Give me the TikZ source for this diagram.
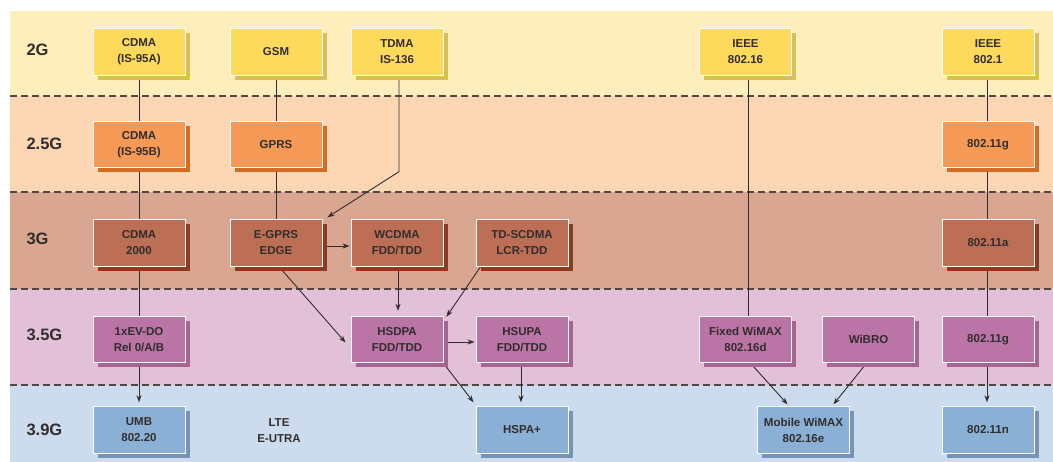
\documentclass[tikz,border=0pt]{standalone}
\usepackage{fontspec}
\setmainfont{Liberation Sans}
\usetikzlibrary{arrows.meta,shadows,calc}
\pgfdeclarelayer{bands}
\pgfdeclarelayer{conn}
\pgfsetlayers{bands,conn,main}
\definecolor{bandA}{RGB}{254,238,188}
\definecolor{bandB}{RGB}{253,214,180}
\definecolor{bandC}{RGB}{217,166,145}
\definecolor{bandD}{RGB}{225,192,216}
\definecolor{bandE}{RGB}{204,220,238}
\definecolor{boxA}{RGB}{254,218,92}
\definecolor{shA}{RGB}{218,190,90}
\definecolor{boxB}{RGB}{245,154,86}
\definecolor{shB}{RGB}{214,108,34}
\definecolor{boxC}{RGB}{189,111,85}
\definecolor{shC}{RGB}{140,58,34}
\definecolor{boxD}{RGB}{187,116,166}
\definecolor{shD}{RGB}{166,100,148}
\definecolor{boxE}{RGB}{139,176,214}
\definecolor{shE}{RGB}{118,148,184}
\definecolor{txt}{RGB}{50,45,45}
\definecolor{lnc}{RGB}{50,44,44}
\definecolor{dashc}{RGB}{80,70,68}
\tikzset{
  box/.style={draw=white, line width=0.9pt, minimum width=92pt, minimum height=46.5pt,
    inner sep=0pt, align=center, text=txt,
    font=\fontsize{11.5}{16}\selectfont\bfseries},
  gA/.style={box, fill=boxA, drop shadow={shadow xshift=4.5pt,shadow yshift=-4.5pt,fill=shA,opacity=1}},
  gB/.style={box, fill=boxB, drop shadow={shadow xshift=4.5pt,shadow yshift=-4.5pt,fill=shB,opacity=1}},
  gC/.style={box, fill=boxC, drop shadow={shadow xshift=4.5pt,shadow yshift=-4.5pt,fill=shC,opacity=1}},
  gD/.style={box, fill=boxD, drop shadow={shadow xshift=4.5pt,shadow yshift=-4.5pt,fill=shD,opacity=1}},
  gE/.style={box, fill=boxE, drop shadow={shadow xshift=4.5pt,shadow yshift=-4.5pt,fill=shE,opacity=1}},
  rowlab/.style={anchor=west, text=txt, font=\fontsize{16.5}{18}\selectfont\bfseries},
  plaintext/.style={align=center, text=txt, font=\fontsize{11.5}{16}\selectfont\bfseries},
  ln/.style={draw=lnc, line width=0.9pt},
  arr/.style={ln, -{Stealth[length=7pt,width=5pt]}},
  sep/.style={draw=dashc, line width=1.2pt, dash pattern=on 7pt off 4pt}
}
\begin{document}
\begin{tikzpicture}[x=1pt,y=-1pt]
\useasboundingbox (0,0) rectangle (1053,462);
\begin{pgfonlayer}{bands}
  \fill[bandA] (10,11) rectangle (1053,96);
  \fill[bandB] (10,96) rectangle (1053,192);
  \fill[bandC] (10,192) rectangle (1053,289);
  \fill[bandD] (10,289) rectangle (1053,385);
  \fill[bandE] (10,385) rectangle (1053,462);
  \draw[sep] (10,96) -- (1053,96);
  \draw[sep] (10,192) -- (1053,192);
  \draw[sep] (10,289) -- (1053,289);
  \draw[sep] (10,385) -- (1053,385);
\end{pgfonlayer}

% row labels
\node[rowlab] (l2) at (23,50) {2G};
\node[rowlab] (l25) at (23,144) {2.5G};
\node[rowlab] (l3) at (23,239) {3G};
\node[rowlab] (l35) at (23,335) {3.5G};
\node[rowlab] (l39) at (23,430) {3.9G};

% 2G
\node[gA] (cdmaA) at (139,52) {CDMA\\(IS-95A)};
\node[gA] (gsm) at (276,52) {GSM};
\node[gA] (tdma) at (397,52) {TDMA\\IS-136};
\node[gA] (ieee16) at (745.5,52) {IEEE\\802.16};
\node[gA] (ieee1) at (988,52) {IEEE\\802.1};
% 2.5G
\node[gB] (cdmaB) at (139,144.5) {CDMA\\(IS-95B)};
\node[gB] (gprs) at (276,144.5) {GPRS};
\node[gB] (wlg) at (988,144.5) {802.11g};
% 3G
\node[gC] (cdma2k) at (139,243) {CDMA\\2000};
\node[gC] (egprs) at (276,243) {E-GPRS\\EDGE};
\node[gC] (wcdma) at (397,243) {WCDMA\\FDD/TDD};
\node[gC] (tdscdma) at (522,243) {TD-SCDMA\\LCR-TDD};
\node[gC] (wla) at (988,243) {802.11a};
% 3.5G
\node[gD] (evdo) at (139,339.5) {1xEV-DO\\Rel 0/A/B};
\node[gD] (hsdpa) at (397,339.5) {HSDPA\\FDD/TDD};
\node[gD] (hsupa) at (522,339.5) {HSUPA\\FDD/TDD};
\node[gD] (fixed) at (745.5,339.5) {Fixed WiMAX\\802.16d};
\node[gD] (wibro) at (868.5,339.5) {WiBRO};
\node[gD] (wlgb) at (988,339.5) {802.11g};
% 3.9G
\node[gE] (umb) at (139,430) {UMB\\802.20};
\node[plaintext] (lte) at (279,431) {LTE\\E-UTRA};
\node[gE] (hspa) at (522,430) {HSPA+};
\node[gE] (mobile) at (803.5,430) {Mobile WiMAX\\802.16e};
\node[gE] (wln) at (988,430) {802.11n};

\begin{pgfonlayer}{conn}
  \draw[ln] (cdmaA) -- (cdmaB);
  \draw[ln] (cdmaB) -- (cdma2k);
  \draw[ln] (cdma2k) -- (evdo);
  \draw[arr, shorten >=4pt] (evdo) -- (umb);
  \draw[ln] (gsm) -- (gprs);
  \draw[ln] (gprs) -- (egprs);
  \coordinate (tbend) at ($(tdma.south)+(2,96)$);
  \draw[arr] ([xshift=2pt]tdma.south) -- (tbend) -- ($(egprs.north east)+(5,-2)$);
  \draw[arr, shorten >=1pt] ([yshift=-3pt]egprs.east) -- ([yshift=-3pt]wcdma.west);
  \draw[arr] ($(egprs.south)+(3,0)$) -- ($(hsdpa.west)+(-5,3)$);
  \draw[arr, shorten >=5pt] ([xshift=1pt]wcdma.south) -- ([xshift=1pt]hsdpa.north);
  \draw[arr] ($(tdscdma.south west)+(5,0)$) -- ($(hsdpa.north east)+(3,1)$);
  \draw[arr, shorten >=1pt] ([yshift=-2.5pt]hsdpa.east) -- ([yshift=-2.5pt]hsupa.west);
  \draw[arr] (hsdpa.south east) -- ($(hspa.north west)+(-2,-4)$);
  \draw[arr, shorten >=4pt] ([xshift=-1pt]hsupa.south) -- ([xshift=-1pt]hspa.north);
  \draw[ln] ([xshift=2.5pt]ieee16.south) -- ([xshift=2.5pt]fixed.north);
  \draw[arr] ($(fixed.south)+(5,0)$) -- ($(mobile.north)+(-16,-2)$);
  \draw[arr] ($(wibro.south)+(-2,0)$) -- ($(mobile.north)+(30,-2)$);
  \draw[ln] ([xshift=-1pt]ieee1.south) -- ([xshift=-1pt]wlg.north);
  \draw[ln] ([xshift=-1pt]wlg.south) -- ([xshift=-1pt]wla.north);
  \draw[ln] ([xshift=-1pt]wla.south) -- ([xshift=-1pt]wlgb.north);
  \draw[arr, shorten >=4pt] ([xshift=-1pt]wlgb.south) -- ([xshift=-1pt]wln.north);
\end{pgfonlayer}
\end{tikzpicture}
\end{document}
